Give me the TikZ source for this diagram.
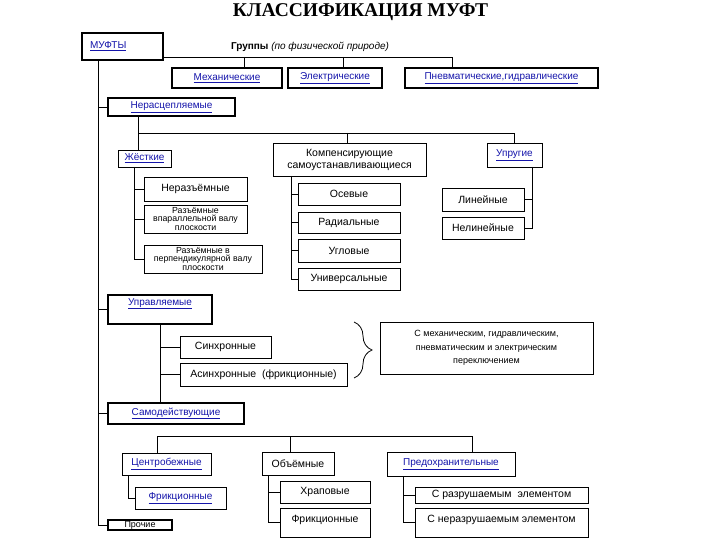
\documentclass[tikz,border=0pt]{standalone}
\usepackage{fontspec}
\setmainfont{Liberation Sans}
\newfontfamily\titlefont{Liberation Serif}
\usetikzlibrary{decorations.pathreplacing}
\definecolor{linkblue}{RGB}{20,20,170}
\newcommand{\lnk}[1]{\textcolor{linkblue}{\underline{#1}}}

\begin{document}
\begin{tikzpicture}[x=1pt, y=-1pt,
    box/.style={draw=black, line width=0.8pt, inner sep=0pt, align=center, font=\fontsize{10.5}{12}\selectfont},
    hbox/.style={box, line width=2.4pt},
    lnkfont/.style={font=\fontsize{10}{12}\selectfont},
    smalltext/.style={font=\fontsize{8.8}{8.3}\selectfont},
    hightext/.style={text height=#1, inner ysep=3pt},
    conn/.style={draw=black, line width=0.8pt}]
      \useasboundingbox (0,0) rectangle (720,540);
      \node[font=\fontsize{19.5}{22}\selectfont\titlefont\bfseries] (title) at (360.5,12) {КЛАССИФИКАЦИЯ МУФТ};
      %
      \node[hbox, lnkfont, minimum width=81pt, minimum height=27pt, text width=65pt, align=left] (muft) at (122.5,46.5) {\lnk{МУФТЫ}};
      \node[font=\fontsize{10}{12}\selectfont] (grp) at (310,47) {\textbf{Группы} \textit{(по физической природе)}};
      \node[hbox, lnkfont, minimum width=110pt, minimum height=20pt] (mech) at (227,78) {\lnk{Механические}};
      \node[hbox, lnkfont, minimum width=94pt, minimum height=20pt] (elec) at (335,78) {\lnk{Электрические}};
      \node[hbox, lnkfont, minimum width=193pt, minimum height=20pt] (pneu) at (501.5,78) {\lnk{Пневматические,гидравлические}};
      %
      \node[hbox, lnkfont, minimum width=127pt, minimum height=18pt] (nerasc) at (171.5,107) {\lnk{Нерасцепляемые}};
      \node[box, lnkfont, minimum width=53pt, minimum height=17pt] (zhest) at (144.5,158.5) {\lnk{Жёсткие}};
      \node[box, minimum width=153pt, minimum height=33pt] (komp) at (349.5,159.5) {Компенсирующие\\самоустанавливающиеся};
      \node[box, lnkfont, minimum width=55pt, minimum height=24pt] (uprug) at (514.5,155) {\lnk{Упругие}};
      %
      \node[box, minimum width=103pt, minimum height=24pt] (neraz) at (195.5,189) {Неразъёмные};
      \node[box, smalltext, minimum width=103pt, minimum height=28pt] (razp) at (195.5,219) {Разъёмные\\впараллельной валу\\плоскости};
      \node[box, smalltext, minimum width=118pt, minimum height=28pt] (razperp) at (203,259) {Разъёмные в\\перпендикулярной валу\\плоскости};
      %
      \node[box, minimum width=102pt, minimum height=22pt] (osev) at (349,194) {Осевые};
      \node[box, minimum width=102pt, minimum height=21pt] (rad) at (349,222.5) {Радиальные};
      \node[box, minimum width=102pt, minimum height=23pt] (ugl) at (349,250.5) {Угловые};
      \node[box, minimum width=102pt, minimum height=22pt] (univ) at (349,279) {Универсальные};
      %
      \node[box, minimum width=82pt, minimum height=23pt] (lin) at (483,199.5) {Линейные};
      \node[box, minimum width=82pt, minimum height=22pt] (nelin) at (483,228) {Нелинейные};
      %
      \node[hbox, lnkfont, hightext=7pt, text depth=16pt, minimum width=104pt, minimum height=29pt] (upr) at (160,309.5) {\lnk{Управляемые}};
      \node[box, minimum width=91pt, minimum height=22pt] (sinh) at (225.5,347) {Синхронные};
      \node[box, minimum width=167pt, minimum height=23pt] (asinh) at (263.5,374.5) {Асинхронные~ (фрикционные)};
      \node[box, font=\fontsize{9}{13.5}\selectfont, minimum width=213pt, minimum height=52pt] (mehsw) at (486.5,348) {С механическим, гидравлическим,\\пневматическим и электрическим\\переключением};
      %
      \node[hbox, lnkfont, minimum width=136pt, minimum height=21pt] (samo) at (176,413.5) {\lnk{Самодействующие}};
      \node[box, lnkfont, minimum width=89pt, minimum height=22pt] (centr) at (166.5,464) {\lnk{Центробежные}};
      \node[box, minimum width=72pt, minimum height=23pt] (obem) at (298,463.5) {Объёмные};
      \node[box, lnkfont, minimum width=128pt, minimum height=24pt] (predokhr) at (451,464) {\lnk{Предохранительные}};
      \node[box, lnkfont, minimum width=91pt, minimum height=22pt] (frik1) at (180.5,498) {\lnk{Фрикционные}};
      \node[hbox, line width=1.8pt, font=\fontsize{9}{10}\selectfont, minimum width=64pt, minimum height=10pt] (proch) at (140,525) {Прочие};
      %
      \node[box, minimum width=90pt, minimum height=22pt] (hrap) at (325,492) {Храповые};
      \node[box, hightext=11pt, text depth=12pt, minimum width=90pt, minimum height=29pt] (frik2) at (325,522.5) {Фрикционные};
      \node[box, minimum width=173pt, minimum height=16pt] (srazr) at (501.5,495) {С разрушаемым~ элементом};
      \node[box, hightext=11pt, text depth=12pt, minimum width=173pt, minimum height=29pt] (snerazr) at (501.5,522.5) {С неразрушаемым элементом};
      %
      % connectors
      \coordinate (g1) at (244,57);
      \coordinate (g2) at (343,57);
      \coordinate (g3) at (452,57);
      \draw[conn] (muft.east |- g3) -- (g3) -- (g3 |- pneu.north);
      \draw[conn] (g1) -- (g1 |- mech.north);
      \draw[conn] (g2) -- (g2 |- elec.north);
      %
      \coordinate (ms) at (98,60);
      \draw[conn] (ms) |- (proch.west);
      \draw[conn] (nerasc.west -| ms) -- (nerasc.west);
      \draw[conn] (upr.west -| ms) -- (upr.west);
      \draw[conn] (samo.west -| ms) -- (samo.west);
      %
      \coordinate (n1) at (138,133);
      \coordinate (n2) at (347,133);
      \draw[conn] (nerasc.south -| n1) -- (zhest.north -| n1);
      \draw[conn] (n1) -| (uprug.north);
      \draw[conn] (n2) -- (n2 |- komp.north);
      %
      \coordinate (zs) at (134,167);
      \draw[conn] (zs) |- (razperp.west);
      \draw[conn] (neraz.west -| zs) -- (neraz.west);
      \draw[conn] (razp.west -| zs) -- (razp.west);
      %
      \coordinate (ks) at (291,176);
      \draw[conn] (ks) |- (univ.west);
      \draw[conn] (osev.west -| ks) -- (osev.west);
      \draw[conn] (rad.west -| ks) -- (rad.west);
      \draw[conn] (ugl.west -| ks) -- (ugl.west);
      %
      \coordinate (us) at (532,167);
      \draw[conn] (us) |- (nelin.east);
      \draw[conn] (lin.east) -- (lin.east -| us);
      %
      \draw[conn] (upr.south) -- (upr.south |- samo.north);
      \draw[conn] (sinh.west -| upr.south) -- (sinh.west);
      \draw[conn] (asinh.west -| upr.south) -- (asinh.west);
      \coordinate (br1) at (354,322);
      \coordinate (br2) at (354,378);
      \draw[conn, decorate, decoration={brace, amplitude=18pt, aspect=0.5}] (br1) -- (br2);
      %
      \coordinate (s1) at (157,436);
      \coordinate (s2) at (290,436);
      \coordinate (s3) at (472,436);
      \draw[conn] (centr.north -| s1) -- (s1) -- (s3) -- (s3 |- predokhr.north);
      \draw[conn] (s2) -- (s2 |- obem.north);
      \coordinate (c1) at (128,475);
      \draw[conn] (c1) |- (frik1.west);
      %
      \coordinate (os) at (268,475);
      \draw[conn] (os) |- (frik2.west);
      \draw[conn] (hrap.west -| os) -- (hrap.west);
      \coordinate (ps) at (403,476);
      \draw[conn] (ps) |- (snerazr.west);
      \draw[conn] (srazr.west -| ps) -- (srazr.west);
    \end{tikzpicture}
\end{document}
